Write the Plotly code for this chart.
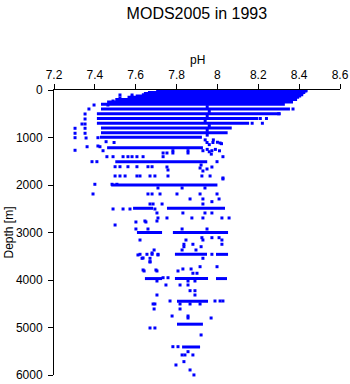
import plotly.graph_objects as go

title_text = "MODS2005 in 1993"
x_label = "pH"
y_label = "Depth [m]"
x_tickvals = [7.2, 7.4, 7.6, 7.8, 8.0, 8.2, 8.4, 8.6]
x_ticktext = ["7.2", "7.4", "7.6", "7.8", "8", "8.2", "8.4", "8.6"]
y_tickvals = [0, 1000, 2000, 3000, 4000, 5000, 6000]
y_ticktext = ["0", "1000", "2000", "3000", "4000", "5000", "6000"]

# dense runs of observations at a given depth: depth, lowest pH, highest pH
bar_depth = [0, 10, 20, 30, 50, 75, 100, 125, 150, 200, 250,
             300, 400, 500, 600, 700,
             800, 900, 996, 1215, 1509, 2000,
             2490, 2490, 3000, 3000, 3460, 3460,
             3970, 3970, 3970, 4445, 4930, 5410]
bar_lo = [7.80, 7.78, 7.74, 7.70, 7.66, 7.64, 7.63, 7.60, 7.56, 7.50, 7.46,
          7.43, 7.43, 7.41, 7.41, 7.41,
          7.43, 7.43, 7.425, 7.46, 7.50, 7.48,
          7.587, 7.753, 7.606, 7.782, 7.792, 7.993,
          7.645, 7.792, 7.993, 7.802, 7.802, 7.827]
bar_hi = [8.44, 8.44, 8.44, 8.43, 8.43, 8.42, 8.42, 8.41, 8.40, 8.39, 8.37,
          8.33, 8.355, 8.31, 8.20, 8.155,
          8.07, 8.05, 7.924, 7.929, 7.95, 8.0,
          7.685, 8.037, 7.729, 8.052, 7.949, 8.052,
          7.729, 7.954, 8.047, 7.954, 7.929, 7.915]

# isolated observations
pt_ph = [7.303, 7.303, 7.303, 7.303, 7.352, 7.352, 7.352, 7.352, 7.352, 7.357, 7.362,
         7.371, 7.337, 7.396, 7.464, 7.489, 7.523, 7.582, 7.523, 7.582, 7.415, 7.425,
         7.455, 7.494, 7.949, 7.978, 8.013, 7.415, 7.734, 7.753, 7.782, 7.856, 8.027,
         7.753, 7.758, 7.915, 7.920, 7.929, 7.949, 7.973, 8.027,
         7.44, 7.782, 7.856, 7.929, 7.973, 7.459, 7.489, 7.538, 7.562, 7.582, 7.606,
         7.636, 7.734, 7.386, 7.410, 7.998, 7.499, 7.523, 7.562, 7.606, 7.660, 7.680,
         7.499, 7.523, 7.548, 7.606, 7.621, 7.670, 7.694, 7.758, 7.924, 7.964, 8.027,
         7.40, 7.484, 7.508, 7.709, 7.827, 7.939, 7.391, 7.660, 7.680, 7.719, 7.802,
         7.915, 7.998, 7.866, 7.929, 8.008, 7.973, 7.670, 7.685, 7.729, 7.929,
         7.489, 7.538, 7.572, 7.694, 7.704, 7.831, 7.939, 7.973, 7.709, 7.753, 7.875,
         7.929, 8.022, 8.057, 7.645, 7.704, 7.601, 7.650, 7.499, 7.601, 7.660, 7.827,
         7.949, 7.924, 7.929, 7.973, 8.008, 7.621, 7.846, 8.022, 7.836, 7.880, 8.022,
         7.836, 7.920, 7.690, 7.827, 7.895, 7.621, 7.655, 7.680, 7.709, 7.973, 7.631,
         7.670, 7.929, 7.670, 7.915, 7.998, 7.831, 7.871, 7.641, 7.704, 7.807, 7.880,
         7.900, 7.734, 7.758, 7.704, 7.856, 7.890, 7.748, 7.817, 7.856, 7.866, 7.890,
         7.704, 7.890, 7.768, 7.988, 8.013, 8.027, 7.685, 7.694, 7.817, 7.866, 7.915,
         7.690, 7.817, 7.778, 7.856, 7.856, 7.969, 7.670, 7.694, 7.920, 7.782, 7.807,
         7.856, 7.827, 7.841, 7.880, 7.836, 7.797, 7.866, 7.885,
         7.611, 7.636, 7.680, 7.709, 7.670, 7.636, 7.699,
         7.95, 7.96, 7.95, 7.94, 7.96, 7.95, 7.95, 7.94, 7.96, 7.95, 7.96, 7.97,
         7.98, 8.00, 8.02, 7.99, 8.01, 8.21, 8.24, 8.17, 8.22, 8.37, 8.30]
pt_depth = [806, 911, 1004, 1269, 505, 610, 716, 806, 911, 1010, 1194,
            400, 716, 316, 316, 232, 168, 147, 105, 105, 1004, 1194,
            1088, 1105, 1105, 1105, 1116, 1179, 1326, 1326, 1326, 1326, 1404,
            1621, 1684, 1642, 1579, 1705, 1663, 1621, 1873,
            1278, 1278, 1278, 1278, 1278, 1404, 1404, 1404, 1404, 1404, 1404,
            1404, 1404, 1509, 1509, 1509, 1615, 1615, 1615, 1615, 1615, 1615,
            1810, 1810, 1810, 1810, 1810, 1810, 1810, 1810, 1810, 1810, 1852,
            1985, 1985, 1985, 2063, 2063, 2063, 2189, 2189, 2189, 2189, 2189,
            2189, 2189, 2294, 2294, 2294, 2351, 2400, 2400, 2400, 2400,
            2505, 2505, 2505, 2505, 2589, 2589, 2589, 2589, 2694, 2694, 2694,
            2694, 2694, 2694, 2758, 2758, 2779, 2779, 2842, 2926, 2926, 2926,
            2926, 3109, 3158, 3109, 3109, 3158, 3158, 3158, 3248, 3248, 3248,
            3299, 3299, 3368, 3368, 3368, 3459, 3459, 3459, 3459, 3459, 3543,
            3543, 3543, 3614, 3720, 3720, 3768, 3768, 3810, 3810, 3810, 3858,
            3858, 3952, 3952, 4021, 4021, 4021, 4105, 4105, 4105, 4225, 4225,
            4316, 4316, 4442, 4442, 4442, 4442, 4505, 4505, 4505, 4505, 4505,
            4610, 4610, 4758, 4758, 4800, 4800, 5010, 5010, 5157, 5404, 5404,
            5509, 5578, 5578, 5578, 5719, 5789, 5894, 5999,
            3473, 3536, 3431, 3473, 3620, 3789, 3789,
            350, 450, 550, 650, 750, 850, 950, 1050, 1150, 1250, 1300, 1350,
            1050, 1100, 1130, 1250, 1280, 600, 600, 700, 700, 400, 500]

blue = "#0000FF"

seg_x, seg_y = [], []
for d, lo, hi in zip(bar_depth, bar_lo, bar_hi):
    seg_x += [lo, hi, None]
    seg_y += [d, d, None]

fig = go.Figure()
fig.add_trace(go.Scatter(x=seg_x, y=seg_y, mode="lines",
                         line=dict(color=blue, width=3), hoverinfo="skip",
                         showlegend=False))
fig.add_trace(go.Scatter(x=pt_ph, y=pt_depth, mode="markers",
                         marker=dict(color=blue, symbol="square", size=3,
                                     line=dict(width=0)),
                         cliponaxis=False, showlegend=False))

font = dict(family="Liberation Sans, Arial, sans-serif", size=12, color="black")

fig.update_layout(
    width=350, height=384,
    margin=dict(l=54, r=10, t=90, b=9),
    paper_bgcolor="white", plot_bgcolor="white",
    font=font,
    showlegend=False,
    title=dict(text=title_text, x=0.5625, xanchor="center", y=1 - 13 / 384,
               yanchor="middle", yref="container",
               font=dict(family="Liberation Sans, Arial, sans-serif", size=16, color="black")),
    xaxis=dict(side="top", range=[7.2, 8.6], tickvals=x_tickvals, ticktext=x_ticktext,
               ticks="outside", ticklen=5, tickcolor="black", showline=True,
               linecolor="black", linewidth=1, showgrid=False, zeroline=False,
               tickfont=font, automargin=False),
    yaxis=dict(range=[6000, 0], tickvals=y_tickvals, ticktext=y_ticktext,
               ticks="outside", ticklen=5, tickcolor="black", showline=True,
               linecolor="black", linewidth=1, showgrid=False, zeroline=False,
               tickfont=font, automargin=False, ticklabelstandoff=3),
    annotations=[
        dict(text=x_label, xref="paper", yref="paper", x=0.5, y=1, yshift=30,
             xanchor="center", yanchor="middle", showarrow=False, font=font),
        dict(text=y_label, xref="paper", yref="paper", x=0, y=0.5, xshift=-46,
             xanchor="center", yanchor="middle", textangle=-90, showarrow=False,
             font=font),
    ],
)

fig.write_html("out.html")
